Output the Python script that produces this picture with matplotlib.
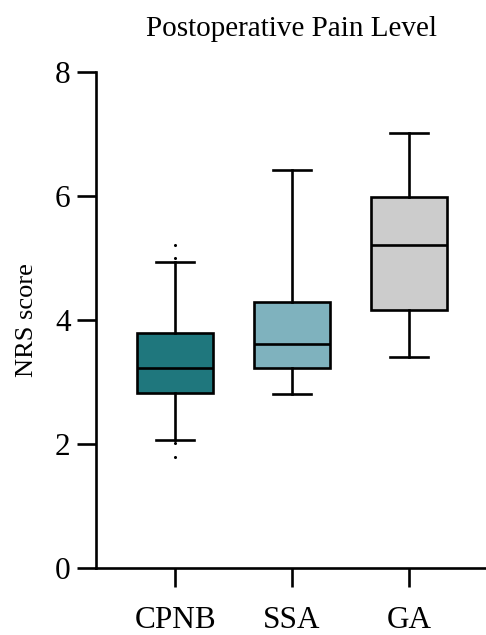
import matplotlib
matplotlib.use("Agg")
import matplotlib.pyplot as plt

# Box statistics (NRS score)
groups = ["CPNB", "SSA", "GA"]
whislo = [2.06, 2.81, 3.40]
q1 = [2.82, 3.23, 4.16]
med = [3.22, 3.61, 5.21]
q3 = [3.79, 4.29, 5.98]
whishi = [4.94, 6.42, 7.02]
fliers = [[5.21, 5.00, 2.01, 1.79], [], []]
colors = ["#1f777d", "#7fb2be", "#cccccc"]

plt.rcParams["font.family"] = ["Liberation Serif", "DejaVu Serif"]

fig = plt.figure(figsize=(4.86, 6.35), dpi=100)
ax = fig.add_axes([0.198, 0.1055, 0.802, 0.7815])

stats = []
for i, g in enumerate(groups):
    stats.append(dict(label=g, whislo=whislo[i], q1=q1[i], med=med[i],
                      q3=q3[i], whishi=whishi[i], fliers=fliers[i]))

lw = 1.9
bp = ax.bxp(stats, positions=range(len(groups)), widths=0.65, patch_artist=True,
            boxprops=dict(linewidth=lw, edgecolor="black"),
            medianprops=dict(color="black", linewidth=lw),
            whiskerprops=dict(color="black", linewidth=lw),
            capprops=dict(color="black", linewidth=lw),
            flierprops=dict(marker="o", markersize=1.2, markerfacecolor="black",
                            markeredgecolor="black", linestyle="none"))
for patch, c in zip(bp["boxes"], colors):
    patch.set_facecolor(c)

ax.set_xlim(-0.675, 2.66)
ax.set_ylim(0, 8)
ax.set_yticks([0, 2, 4, 6, 8])
ax.set_xticks(range(len(groups)))
ax.set_xticklabels(groups)
ax.tick_params(axis="both", length=13.5, width=lw, labelsize=22.5, pad=5)
ax.tick_params(axis="x", pad=14)
for side in ["top", "right"]:
    ax.spines[side].set_visible(False)
for side in ["left", "bottom"]:
    ax.spines[side].set_linewidth(lw)

ax.set_ylabel("NRS score", fontsize=19, labelpad=12)
ax.set_title("Postoperative Pain Level", fontsize=21, pad=26)

fig.savefig("out.png", dpi=100)
